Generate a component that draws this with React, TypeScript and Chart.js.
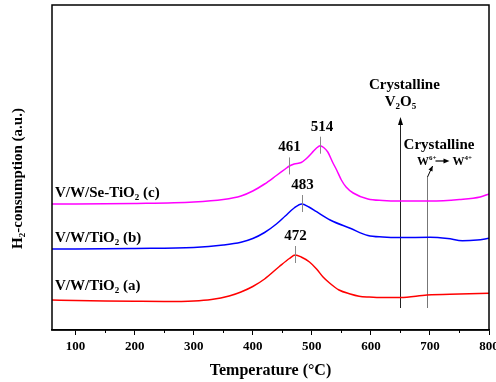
import React, { useEffect, useRef } from 'react';
import { Chart, registerables } from 'chart.js';

Chart.register(...registerables);

const FONT = '"Liberation Serif", "Times New Roman", Times, serif';

// V/W/TiO2 (a) - red
const tempA = [60, 100, 150, 200, 250, 300, 330, 360, 380, 400, 420, 445, 462, 472, 482, 496, 508, 519, 530, 546, 565, 580, 597, 620, 650, 695, 750, 800];
const h2A = [30, 29.5, 29, 28.7, 28.5, 29, 30.5, 34, 38, 43.5, 51, 63.5, 71.5, 75, 73, 68, 61, 53, 47, 40, 36, 33.8, 33, 32.5, 32.5, 35, 36, 36.7];

// V/W/TiO2 (b) - blue
const tempB = [60, 100, 200, 300, 350, 380, 400, 420, 440, 455, 470, 483, 495, 508, 531, 565, 595, 620, 650, 700, 730, 755, 780, 800];
const h2B = [81, 81, 81.5, 82.5, 85, 87.8, 91.5, 97.5, 106, 114, 122, 126, 123, 118.3, 110, 101.7, 94.5, 93, 92.5, 92.7, 91.5, 89.3, 90, 91.7];

// V/W/Se-TiO2 (c) - magenta
const tempC = [60, 100, 200, 300, 350, 380, 400, 420, 440, 455, 462, 470, 482, 490, 500, 508, 514, 520, 527, 535, 542, 550, 558, 570, 595, 620, 650, 700, 750, 785, 800];
const h2C = [126, 126, 126.5, 128, 130.5, 134, 139, 146, 154.5, 161, 164, 166, 167.5, 171, 177, 182, 184.3, 182.5, 178, 168, 160, 150, 143, 137, 131, 129.5, 129, 129, 130.5, 133, 136];

const seriesTemps = [tempA, tempB, tempC];
const seriesValues = [h2A, h2B, h2C];
const seriesColors = ['#ff0000', '#0000ff', '#ff00ff'];
// label parts: [text, kind]
const seriesNames: [string, string][][] = [
  [['V/W/TiO', 'n'], ['2', 'sub'], [' (a)', 'n']],
  [['V/W/TiO', 'n'], ['2', 'sub'], [' (b)', 'n']],
  [['V/W/Se-TiO', 'n'], ['2', 'sub'], [' (c)', 'n']],
];

const xTickValues = [100, 200, 300, 400, 500, 600, 700, 800];
const xMinorValues = [150, 250, 350, 450, 550, 650, 750];

const peakTemps = [472, 483, 461, 514];
const peakSeries = [0, 1, 2, 2];
const peakLabels = ['472', '483', '461', '514'];

const v2o5Temp = 650;
const wTemp = 695;

function interp(xs: number[], ys: number[], t: number) {
  for (let i = 0; i < xs.length - 1; i++) {
    if (t >= xs[i] && t <= xs[i + 1]) {
      const f = (t - xs[i]) / (xs[i + 1] - xs[i]);
      return ys[i] + f * (ys[i + 1] - ys[i]);
    }
  }
  return ys[ys.length - 1];
}

function drawRich(ctx: CanvasRenderingContext2D, parts: [string, string][], x: number, y: number, size: number, align: 'left' | 'center') {
  const small = Math.round(size * 0.62);
  const widths = parts.map(([t, k]) => {
    ctx.font = `bold ${k === 'n' ? size : small}px ${FONT}`;
    return ctx.measureText(t).width;
  });
  const total = widths.reduce((a, b) => a + b, 0);
  let cx = align === 'center' ? x - total / 2 : x;
  ctx.textBaseline = 'middle';
  ctx.textAlign = 'left';
  parts.forEach(([t, k], i) => {
    ctx.font = `bold ${k === 'n' ? size : small}px ${FONT}`;
    const dy = k === 'sub' ? size * 0.32 : k === 'sup' ? -size * 0.35 : 0;
    ctx.fillText(t, cx, y + dy);
    cx += widths[i];
  });
  return cx;
}

function arrowHead(ctx: CanvasRenderingContext2D, x: number, y: number, angle: number, len: number, half: number) {
  ctx.save();
  ctx.translate(x, y);
  ctx.rotate(angle);
  ctx.beginPath();
  ctx.moveTo(0, 0);
  ctx.lineTo(-len, -half);
  ctx.lineTo(-len, half);
  ctx.closePath();
  ctx.fill();
  ctx.restore();
}

const overlay = {
  id: 'overlay',
  beforeDatasetsDraw(chart: any) {
    const { ctx, scales } = chart;
    const x = scales.x;
    const y = scales.y;
    ctx.save();
    // Crystalline V2O5 line
    const xv = Math.round(x.getPixelForValue(v2o5Temp)) + 0.5;
    ctx.strokeStyle = '#222';
    ctx.fillStyle = '#000';
    ctx.lineWidth = 1;
    ctx.beginPath();
    ctx.moveTo(xv, y.getPixelForValue(22));
    ctx.lineTo(xv, y.getPixelForValue(206));
    ctx.stroke();
    arrowHead(ctx, xv, y.getPixelForValue(213), -Math.PI / 2, 8, 2.5);
    // Crystalline W line
    const xw = Math.round(x.getPixelForValue(wTemp)) + 0.5;
    ctx.strokeStyle = '#777';
    ctx.beginPath();
    ctx.moveTo(xw, y.getPixelForValue(22));
    ctx.lineTo(xw, y.getPixelForValue(153));
    ctx.stroke();
    const x0 = xw, y0 = y.getPixelForValue(153);
    const x1 = x.getPixelForValue(wTemp + 9.5), y1 = y.getPixelForValue(164);
    ctx.strokeStyle = '#000';
    ctx.beginPath();
    ctx.moveTo(x0, y0);
    ctx.lineTo(x1, y1);
    ctx.stroke();
    arrowHead(ctx, x1, y1, Math.atan2(y1 - y0, x1 - x0), 5, 2.2);
    ctx.restore();
  },
  afterDatasetsDraw(chart: any) {
    const { ctx, scales, chartArea } = chart;
    const x = scales.x;
    const y = scales.y;
    ctx.save();
    ctx.fillStyle = '#000';

    // peak markers and labels
    peakTemps.forEach((t, i) => {
      const s = peakSeries[i];
      const px = Math.round(x.getPixelForValue(t)) + 0.5;
      const py = y.getPixelForValue(interp(seriesTemps[s], seriesValues[s], t));
      ctx.strokeStyle = '#888';
      ctx.lineWidth = 1;
      ctx.beginPath();
      ctx.moveTo(px, py - 9);
      ctx.lineTo(px, py + 8);
      ctx.stroke();
      ctx.font = `bold 15px ${FONT}`;
      ctx.textAlign = 'center';
      ctx.textBaseline = 'middle';
      ctx.fillStyle = '#000';
      ctx.fillText(peakLabels[i], px + (i === 3 ? 1.5 : 0), py - 9 - 10);
    });

    // series labels
    const labelOffsets = [14, 11, 11];
    seriesNames.forEach((parts, i) => {
      const py = y.getPixelForValue(seriesValues[i][0]) - labelOffsets[i];
      drawRich(ctx, parts, chartArea.left + 3, py, 15, 'left');
    });

    // annotation texts
    const xv = x.getPixelForValue(v2o5Temp);
    drawRich(ctx, [['Crystalline', 'n']], xv + 4, y.getPixelForValue(245), 15, 'center');
    drawRich(ctx, [['V', 'n'], ['2', 'sub'], ['O', 'n'], ['5', 'sub']], xv, y.getPixelForValue(228), 15, 'center');
    const xw = x.getPixelForValue(wTemp);
    drawRich(ctx, [['Crystalline', 'n']], xw + 12, y.getPixelForValue(185), 15, 'center');
    const wy = y.getPixelForValue(168);
    let cx = drawRich(ctx, [['W', 'n'], ['6+', 'sup']], xw - 10, wy, 12, 'left');
    ctx.strokeStyle = '#000';
    ctx.lineWidth = 1.2;
    ctx.beginPath();
    ctx.moveTo(cx - 1, wy - 1);
    ctx.lineTo(cx + 9, wy - 1);
    ctx.stroke();
    arrowHead(ctx, cx + 13, wy - 1, 0, 6, 2.5);
    drawRich(ctx, [[' W', 'n'], ['4+', 'sup']], cx + 13, wy, 12, 'left');

    // frame
    ctx.strokeStyle = '#000';
    ctx.lineWidth = 1.5;
    ctx.strokeRect(chartArea.left, chartArea.top, chartArea.right - chartArea.left, chartArea.bottom - chartArea.top);

    // minor ticks
    ctx.lineWidth = 1;
    xMinorValues.forEach((v) => {
      const px = Math.round(x.getPixelForValue(v)) + 0.5;
      ctx.beginPath();
      ctx.moveTo(px, chartArea.bottom);
      ctx.lineTo(px, chartArea.bottom + 3);
      ctx.stroke();
    });

    // y title
    ctx.save();
    ctx.translate(18, (chartArea.top + chartArea.bottom) / 2 + 11);
    ctx.rotate(-Math.PI / 2);
    drawRich(ctx, [['H', 'n'], ['2', 'sub'], ['-consumption (a.u.)', 'n']], 0, 0, 15, 'center');
    ctx.restore();

    ctx.restore();
  },
};

export default function App() {
  const ref = useRef<HTMLCanvasElement | null>(null);
  useEffect(() => {
    if (!ref.current) return;
    const datasets = seriesTemps.map((ts, i) => ({
      label: seriesNames[i].map((p) => p[0]).join(''),
      data: ts.map((t, j) => ({ x: t, y: seriesValues[i][j] })),
      borderColor: seriesColors[i],
      backgroundColor: seriesColors[i],
      borderWidth: 1.5,
      pointRadius: 0,
      cubicInterpolationMode: 'monotone' as const,
      fill: false,
    }));
    const chart = new Chart(ref.current, {
      type: 'line',
      data: { datasets },
      options: {
        responsive: false,
        animation: false,
        devicePixelRatio: 1,
        layout: { padding: { left: 52, right: 7, top: 5, bottom: 0 } },
        plugins: { legend: { display: false }, tooltip: { enabled: false } },
        scales: {
          x: {
            type: 'linear',
            min: 60,
            max: 800,
            afterBuildTicks: (s: any) => {
              s.ticks = xTickValues.map((v) => ({ value: v }));
            },
            afterFit: (s: any) => {
              s.height = 52;
              s.paddingLeft = 0;
              s.paddingRight = 0;
            },
            grid: { display: true, drawOnChartArea: false, drawTicks: true, tickLength: 5, tickColor: '#000', tickWidth: 1 },
            border: { display: true, color: '#000', width: 1.5 },
            ticks: {
              color: '#000',
              font: { family: FONT, size: 13, weight: 'bold' },
              padding: 4,
              maxRotation: 0,
              autoSkip: false,
              callback: (v: any) => String(v),
            },
            title: {
              display: true,
              text: 'Temperature (°C)',
              color: '#000',
              font: { family: FONT, size: 16, weight: 'bold' },
              padding: { top: 0, bottom: 2 },
            },
          },
          y: { type: 'linear', display: false, min: 0, max: 325 },
        },
      },
      plugins: [overlay],
    });
    return () => chart.destroy();
  }, []);
  return (
    <div style={{ position: 'fixed', left: 0, top: 0, width: 496, height: 382, background: '#fff' }}>
      <canvas ref={ref} width={496} height={382} />
    </div>
  );
}
